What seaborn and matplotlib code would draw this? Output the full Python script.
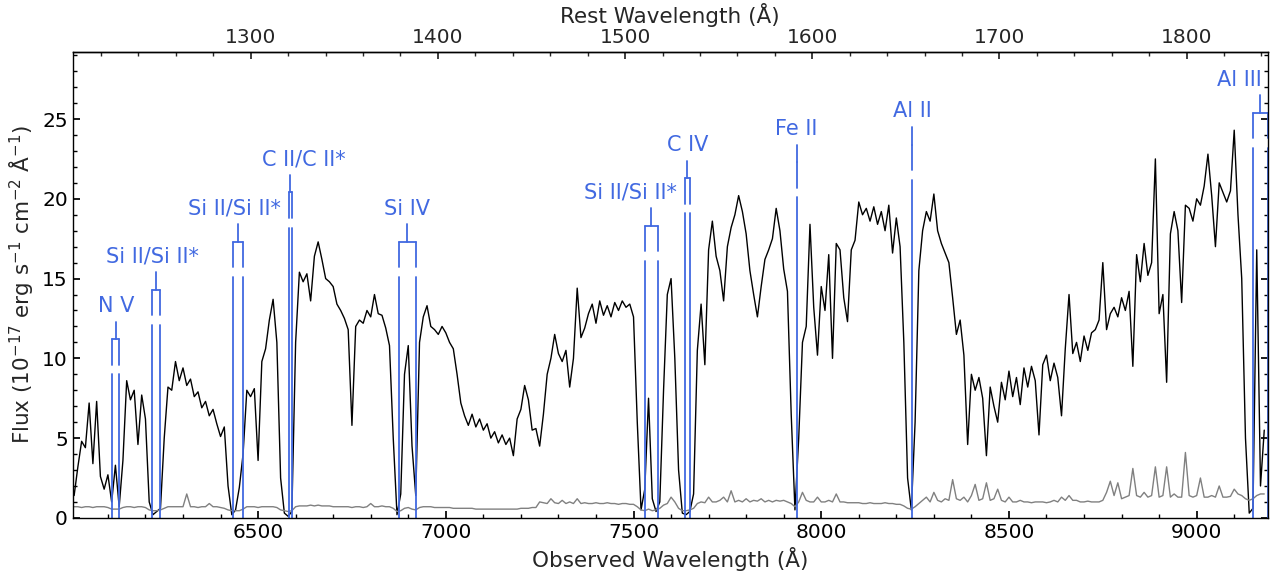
import numpy as np
import pandas as pd
import matplotlib
matplotlib.use('Agg')
import matplotlib.pyplot as plt
from matplotlib.ticker import MultipleLocator, FixedLocator
import seaborn as sns

wave_start = 6010
wave_step = 10
flux = [
    1.4, 3.2, 4.8, 4.4, 7.2, 3.4, 7.3, 2.6, 1.8, 2.7,
    1.0, 3.3, 0.7, 3.6, 8.6, 7.4, 8.0, 4.6, 7.7, 6.2,
    1.0, 0.2, 0.4, 0.6, 5.0, 8.2, 8.0, 9.8, 8.6, 9.4,
    8.3, 8.7, 7.6, 7.9, 6.9, 7.3, 6.4, 6.8, 5.9, 5.1,
    5.7, 2.0, 0.2, 0.5, 1.9, 4.0, 8.0, 7.6, 8.1, 3.6,
    9.8, 10.6, 12.4, 13.7, 11.0, 2.5, 0.3, 0.1, 0.4, 11.0,
    15.4, 14.8, 15.3, 13.6, 16.4, 17.3, 16.2, 15.0, 14.8, 14.5,
    13.4, 13.0, 12.5, 11.8, 5.8, 12.0, 12.4, 12.2, 13.0, 12.6,
    14.0, 12.8, 12.7, 11.9, 10.8, 5.0, 0.2, 1.5, 9.0, 10.8,
    4.5, 1.4, 11.0, 12.6, 13.3, 12.0, 11.8, 11.5, 12.0, 11.6,
    11.0, 10.6, 9.0, 7.2, 6.4, 5.8, 6.5, 5.7, 6.2, 5.5,
    5.9, 5.0, 5.4, 4.7, 5.2, 4.6, 5.0, 3.9, 6.2, 6.8,
    8.3, 7.4, 5.5, 5.6, 4.5, 6.5, 9.0, 10.0, 11.5, 10.3,
    9.8, 10.5, 8.2, 10.0, 14.4, 11.3, 11.9, 12.8, 13.4, 12.2,
    13.6, 12.7, 13.3, 12.6, 13.5, 13.0, 13.6, 13.2, 13.4, 12.6,
    6.0, 0.5, 1.8, 7.5, 1.2, 0.4, 1.0, 8.0, 14.0, 15.0,
    10.0, 3.0, 0.3, 0.2, 0.4, 1.5, 10.5, 13.4, 9.6, 16.8,
    18.6, 16.4, 15.5, 13.6, 17.0, 18.2, 19.0, 20.2, 19.2, 17.8,
    15.5, 14.0, 12.6, 14.5, 16.2, 16.8, 17.5, 19.4, 18.0, 15.6,
    14.2, 6.5, 0.5, 5.0, 11.0, 12.0, 18.4, 13.2, 10.2, 14.5,
    13.0, 16.5, 10.0, 17.2, 16.8, 13.8, 12.3, 16.8, 17.4, 19.8,
    19.0, 19.4, 18.6, 19.5, 18.4, 19.2, 18.0, 19.6, 16.6, 18.8,
    17.0, 11.0, 2.5, 0.5, 6.0, 15.5, 18.0, 19.2, 18.6, 20.3,
    18.0, 17.2, 16.6, 16.0, 13.8, 11.5, 12.4, 10.2, 4.6, 9.0,
    8.0, 8.8, 7.5, 3.9, 8.2, 7.0, 6.0, 8.5, 7.4, 9.2,
    7.6, 8.8, 7.1, 9.4, 8.2, 9.5, 8.6, 5.2, 9.6, 10.2,
    8.6, 9.7, 8.8, 6.4, 10.6, 14.0, 10.3, 11.0, 9.8, 11.4,
    10.5, 11.6, 11.8, 12.4, 16.0, 11.8, 12.8, 13.2, 12.6, 13.8,
    13.0, 14.2, 9.5, 16.5, 14.8, 17.2, 15.2, 16.0, 22.5, 12.8,
    14.0, 8.5, 17.8, 19.2, 18.0, 13.5, 19.6, 19.4, 18.6, 20.0,
    19.6, 20.8, 22.8, 20.2, 17.0, 21.0, 20.4, 19.8, 20.5, 24.3,
    19.0, 15.0, 5.0, 0.3, 0.6, 16.8, 2.0, 5.5,
]
err = [
    0.7, 0.7, 0.65, 0.7, 0.7, 0.65, 0.7, 0.7, 0.7, 0.65,
    0.55, 0.55, 0.55, 0.65, 0.7, 0.7, 0.65, 0.7, 0.7, 0.65,
    0.5, 0.45, 0.45, 0.5, 0.6, 0.7, 0.7, 0.7, 0.7, 0.7,
    1.5, 0.7, 0.7, 0.65, 0.7, 0.7, 0.9, 0.7, 0.7, 0.65,
    0.6, 0.5, 0.45, 0.45, 0.45, 0.55, 0.7, 0.7, 0.7, 0.65,
    0.7, 0.7, 0.7, 0.7, 0.65, 0.5, 0.45, 0.4, 0.45, 0.7,
    0.75, 0.75, 0.75, 0.8, 0.75, 0.8, 0.75, 0.75, 0.75, 0.7,
    0.7, 0.7, 0.7, 0.7, 0.65, 0.7, 0.7, 0.65, 0.7, 0.9,
    0.7, 0.7, 0.75, 0.7, 0.7, 0.6, 0.4, 0.45, 0.6, 0.65,
    0.55, 0.5, 0.65, 0.7, 0.7, 0.7, 0.65, 0.65, 0.65, 0.65,
    0.65, 0.6, 0.6, 0.6, 0.6, 0.6, 0.6, 0.55, 0.55, 0.55,
    0.55, 0.55, 0.55, 0.55, 0.55, 0.55, 0.55, 0.55, 0.55, 0.6,
    0.6, 0.6, 0.65, 0.65, 1.0, 0.95, 0.9, 1.2, 0.95, 0.9,
    1.1, 0.9, 1.0, 0.9, 1.2, 0.9, 0.95, 0.9, 0.9, 0.95,
    0.9, 0.9, 0.95, 0.9, 0.9, 0.85, 0.9, 0.9, 0.85, 0.85,
    0.7, 0.5, 0.45, 0.55, 0.45, 0.5, 0.6, 0.8, 0.9, 1.3,
    1.0, 0.6, 0.45, 0.45, 0.5, 0.6, 0.9, 1.0, 0.95, 1.3,
    1.0, 1.0, 1.1, 1.3, 1.0, 1.7, 1.0, 1.1, 1.0, 1.2,
    1.0, 1.1, 1.05, 1.2, 1.0, 1.1, 1.0, 1.1, 1.05, 1.1,
    1.0, 0.9, 0.7, 1.0, 1.6, 1.1, 1.0, 1.0, 1.3, 1.0,
    1.0, 1.1, 1.0, 1.5, 1.0, 1.0, 0.95, 0.95, 0.95, 0.95,
    0.9, 0.9, 0.95, 0.9, 0.9, 0.9, 0.95, 0.9, 0.9, 0.85,
    0.85, 0.75, 0.6, 0.55, 0.7, 0.9, 1.1, 1.3, 1.0, 1.6,
    1.1, 1.0, 1.2, 1.1, 2.4, 1.2, 1.1, 1.3, 1.0, 1.4,
    2.1, 1.1, 1.2, 2.2, 1.1, 1.2, 1.8, 1.1, 1.0, 1.3,
    1.0, 1.0, 1.1, 1.0, 1.0, 0.95, 1.0, 1.0, 1.0, 0.95,
    1.0, 1.1, 1.0, 1.3, 1.1, 1.4, 1.1, 1.1, 1.0, 1.0,
    1.05, 1.0, 1.0, 1.0, 1.1, 1.6, 2.3, 1.4, 2.2, 1.2,
    1.3, 1.4, 3.1, 1.4, 1.3, 1.6, 1.3, 1.4, 3.2, 1.3,
    1.4, 3.2, 1.3, 1.5, 1.3, 1.3, 4.1, 1.4, 1.3, 1.4,
    2.5, 1.3, 1.3, 1.4, 1.3, 2.0, 1.3, 1.3, 1.35, 1.8,
    1.5, 1.4, 1.2, 1.1, 1.2, 1.4, 1.5, 1.5,
]

z_qso = 3.985   # emission redshift, for the rest-frame axis
z_abs = 3.933   # absorber redshift

line_labels = ['N V', 'Si II/Si II*', 'Si II/Si II*', 'C II/C II*', 'Si IV',
               'Si II/Si II*', 'C IV', 'Fe II', 'Al II', 'Al III']
line_rest = [[1238.82, 1242.80], [1260.42, 1264.74], [1304.37, 1309.28],
             [1334.53, 1335.71], [1393.76, 1402.77], [1526.71, 1533.43],
             [1548.20, 1550.78], [1608.45], [1670.79], [1854.72, 1862.79]]
rest_ticks = [1300, 1400, 1500, 1600, 1700, 1800]

# layout of the line markers
marker_top = [11.2, 14.3, 17.3, 20.4, 17.3, 18.3, 21.3, 22.3, 23.4, 25.4]
label_dx = [0, -10, -10, 36, 0, -55, 0, 0, 0, 5]
label_ha = ['center'] * 9 + ['right']

blue = '#4169e1'

sns.set_theme(style='ticks')
plt.rcParams['font.family'] = ['DejaVu Sans']
plt.rcParams['axes.edgecolor'] = 'black'
plt.rcParams['axes.linewidth'] = 1.0

wave = wave_start + wave_step * np.arange(len(flux))
df = pd.DataFrame({'wave': wave, 'flux': flux, 'err': err})

fig, ax = plt.subplots(figsize=(12.74, 5.78), dpi=100)
fig.subplots_adjust(left=0.057, right=0.995, top=0.910, bottom=0.104)

sns.lineplot(data=df, x='wave', y='flux', color='black', lw=1.0,
             estimator=None, ax=ax)
sns.lineplot(data=df, x='wave', y='err', color='grey', lw=1.0,
             estimator=None, ax=ax)

for lab, rest, h, dx, ha in zip(line_labels, line_rest, marker_top, label_dx, label_ha):
    obs = [r * (1 + z_abs) for r in rest]
    for x in obs:
        ax.plot([x, x], [0, h - 2.2], color=blue, lw=1.3)
        ax.plot([x, x], [h - 1.6, h], color=blue, lw=1.3)
    if len(obs) > 1:
        ax.plot([obs[0], obs[-1]], [h, h], color=blue, lw=1.3)
    xc = np.mean(obs)
    ax.plot([xc, xc], [h, h + 1.1], color=blue, lw=1.3)
    ax.text(xc + dx, h + 1.7, lab, color=blue, fontsize=15, ha=ha, va='baseline')

ax.set_xlim(6006, 9189)
ax.set_ylim(0, 29.2)
ax.set_xlabel('Observed Wavelength (Å)', fontsize=15.5)
ax.set_ylabel('Flux (10$^{-17}$ erg s$^{-1}$ cm$^{-2}$ Å$^{-1}$)', fontsize=15.5)
ax.xaxis.set_major_locator(MultipleLocator(500))
ax.xaxis.set_minor_locator(MultipleLocator(100))
ax.yaxis.set_major_locator(MultipleLocator(5))
ax.yaxis.set_minor_locator(MultipleLocator(1))
ax.tick_params(which='both', direction='in', top=False, right=True, labelsize=14.5, colors='black')
ax.tick_params(which='major', length=5)
ax.tick_params(which='minor', length=3)

sec = ax.secondary_xaxis('top', functions=(lambda w: w / (1 + z_qso), lambda r: r * (1 + z_qso)))
sec.set_xlabel('Rest Wavelength (Å)', fontsize=15.5)
sec.xaxis.set_major_locator(FixedLocator(rest_ticks))
sec.xaxis.set_minor_locator(MultipleLocator(20))
sec.tick_params(which='both', direction='in', labelsize=14.5)
sec.tick_params(which='major', length=5)
sec.tick_params(which='minor', length=3)

plt.savefig('out.png', dpi=100)
